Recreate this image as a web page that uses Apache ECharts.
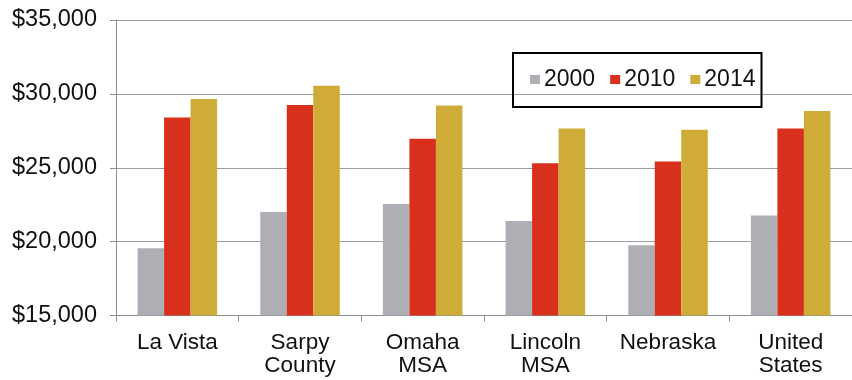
<!DOCTYPE html>
<html>
<head>
<meta charset="utf-8">
<script src="https://cdn.jsdelivr.net/npm/echarts@6/dist/echarts.min.js"></script>
<style>
  html, body { margin: 0; padding: 0; background: #fff; }
  #chart { width: 852px; height: 380px; }
</style>
</head>
<body>
<div id="chart"></div>
<script>
// Per-capita income by area, three survey years
const categories = ['La Vista', 'Sarpy\nCounty', 'Omaha\nMSA', 'Lincoln\nMSA', 'Nebraska', 'United\nStates'];
const years = ['2000', '2010', '2014'];
const income2000 = [19560, 22000, 22550, 21390, 19760, 21770];
const income2010 = [28400, 29250, 26970, 25300, 25420, 27650];
const income2014 = [29650, 30550, 29220, 27650, 27580, 28840];
const yTicks = [15000, 20000, 25000, 30000, 35000];

const colors = ['#aeafb5', '#d8301c', '#cfac38'];
const font = 'Liberation Sans, Arial, sans-serif';

const chart = echarts.init(document.getElementById('chart'));
const seriesData = [income2000, income2010, income2014];

chart.setOption({
  animation: false,
  textStyle: { fontFamily: font },
  grid: { left: 116, right: -5, top: 20, bottom: 64.5, containLabel: false },
  legend: {
    data: years,
    left: 513,
    top: 53,
    padding: [15, 6, 16, 17],
    itemGap: 15,
    itemWidth: 10,
    itemHeight: 9,
    icon: 'rect',
    borderColor: '#000',
    borderWidth: 2,
    textStyle: { fontSize: 23, color: '#111', fontFamily: font, padding: [0, 0, 0, -1] }
  },
  xAxis: {
    type: 'category',
    data: categories,
    axisLine: { lineStyle: { color: '#8a8d96', width: 1 } },
    axisTick: { show: true, length: 6, lineStyle: { color: '#8a8d96' } },
    axisLabel: { fontSize: 22.5, color: '#111', lineHeight: 23, margin: 16, interval: 0 },
    splitLine: { show: false }
  },
  yAxis: {
    type: 'value',
    min: 15000,
    max: 35000,
    interval: 5000,
    axisLine: { show: true, lineStyle: { color: '#8a8d96', width: 1 } },
    axisTick: { show: true, length: 6, lineStyle: { color: '#8a8d96' } },
    axisLabel: {
      fontSize: 23.5,
      color: '#111',
      margin: 19,
      formatter: v => yTicks.includes(v) ? '$' + v.toLocaleString('en-US') : ''
    },
    splitLine: { show: true, lineStyle: { color: '#9a9ca6', width: 1 } }
  },
  series: years.map((y, i) => ({
    name: y,
    type: 'bar',
    data: seriesData[i],
    barWidth: 26.5,
    barGap: '0%',
    itemStyle: { color: colors[i] }
  }))
});
</script>
</body>
</html>
